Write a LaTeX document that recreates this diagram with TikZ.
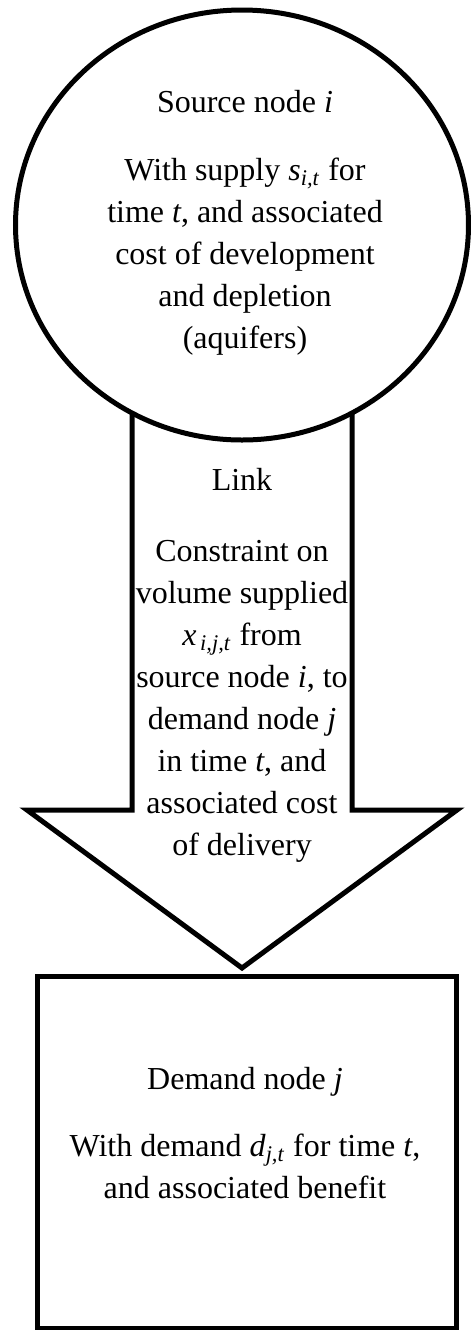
\documentclass[tikz,border=0pt]{standalone}
\usepackage{fontspec}
\setmainfont{Liberation Serif}
\usetikzlibrary{shapes.geometric}
% italic symbol with an italic subscript, e.g. s_{i,t}
\newcommand{\vsub}[2]{\textit{#1}\textsubscript{\textit{#2}}}
\begin{document}
\begin{tikzpicture}[x=0.5pt,y=-0.5pt,
  outline/.style={draw=black,line width=2.5pt,fill=white,line join=miter,miter limit=10},
  txt/.style={align=center,font=\fontsize{16}{21}\selectfont,inner sep=0pt}]
\useasboundingbox (0,0) rectangle (471,1330);

% block arrow (link) from the source node down to the demand node
\coordinate (shaftL) at (132,380);
\coordinate (shaftR) at (352,380);
\coordinate (neckL) at (132,810);
\coordinate (neckR) at (352,810);
\coordinate (wingL) at (27,810);
\coordinate (wingR) at (457,810);
\coordinate (tip) at (242,968);
\draw[outline] (shaftL) -- (neckL) -- (wingL) -- (tip) -- (wingR) -- (neckR) -- (shaftR) -- cycle;

% source node (drawn over the top of the arrow shaft)
\node[outline,ellipse,minimum width=226.5pt,minimum height=215pt,inner sep=0pt] (src) at (242,225) {};

% demand node
\node[outline,rectangle,minimum width=209.25pt,minimum height=176pt,inner sep=0pt] (dem) at (247,1152) {};

% labels (base anchor = baseline of the last line)
\node[txt,anchor=base] (srctext) at (245,348) {Source node \textit{i}\\[13pt]
  With supply \vsub{s}{i,t} for\\ time \textit{t}, and associated\\ cost of development\\
  and depletion\\ (aquifers)};

\node[txt,anchor=base] (linktext) at (242,855) {Link\\[14.5pt]
  Constraint on\\ volume supplied\\ \vsub{x}{\,i,j,t} from\\ source node \textit{i}, to\\
  demand node \textit{j}\\ in time \textit{t}, and\\ associated cost\\ of delivery};

\node[txt,anchor=base] (demtext) at (245,1198) {Demand node \textit{j}\\[12.5pt]
  With demand \vsub{d}{j,t} for time \textit{t},\\ and associated benefit};
\end{tikzpicture}
\end{document}
